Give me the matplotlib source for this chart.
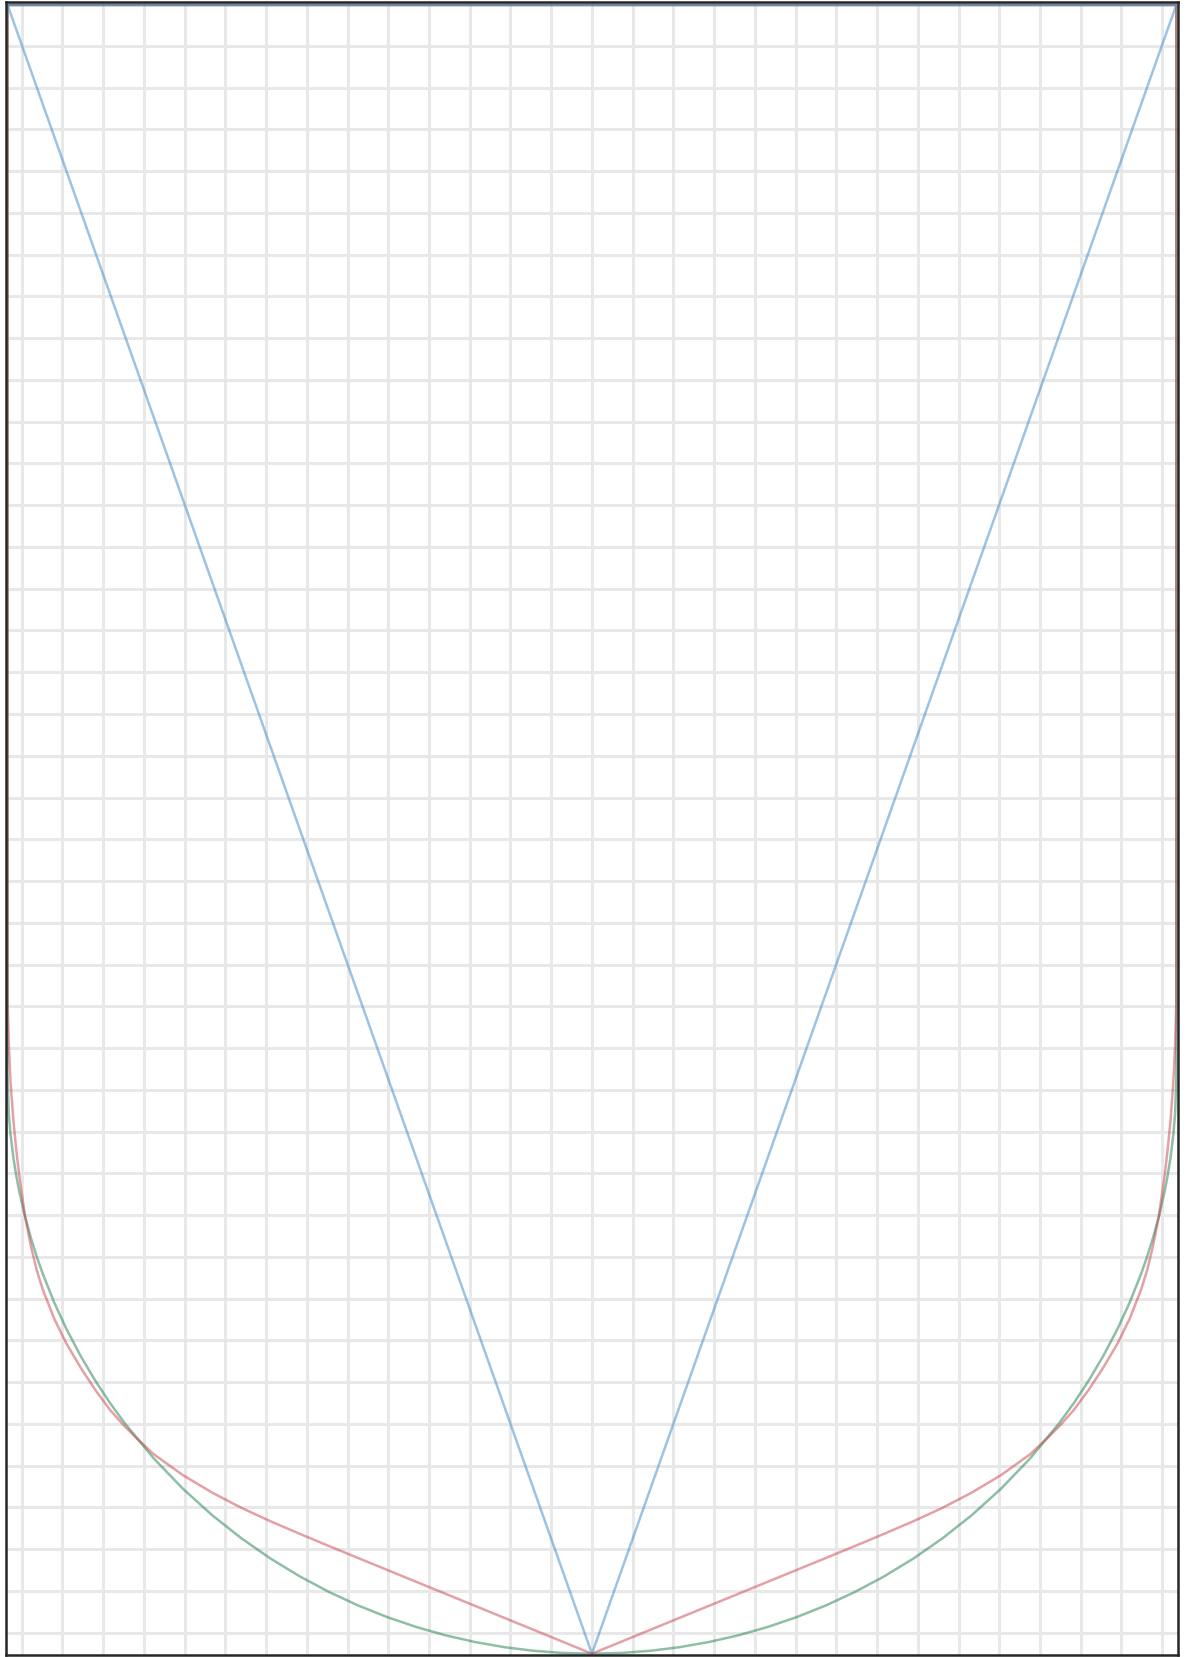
import numpy as np
import matplotlib
matplotlib.use("Agg")
import matplotlib.pyplot as plt

# Half-profile x positions (right half; curves are symmetric about x=0)
x_green = [0.0, 0.05, 0.1, 0.15, 0.2, 0.25, 0.3, 0.35, 0.4, 0.45, 0.5, 0.55,
           0.6, 0.65, 0.7, 0.75, 0.8, 0.825, 0.85, 0.875, 0.9, 0.92, 0.94,
           0.95, 0.96, 0.97, 0.98, 0.985, 0.99, 0.995, 0.998, 1.0]
y_green = [0.0, 0.00044, 0.00176, 0.00396, 0.00707, 0.01111, 0.01612,
           0.02214, 0.02922, 0.03744, 0.04689, 0.05769, 0.0700, 0.08402,
           0.10005, 0.11850, 0.1400, 0.15220, 0.16563, 0.18056, 0.19744,
           0.21283, 0.23059, 0.24071, 0.2520, 0.26492, 0.28035, 0.28961,
           0.30063, 0.31505, 0.32788, 0.3480]

x_red = [0.0, 0.1, 0.2, 0.3, 0.4, 0.45, 0.5, 0.55, 0.6, 0.65, 0.7, 0.75,
         0.78, 0.8, 0.825, 0.85, 0.875, 0.9, 0.92, 0.94, 0.95, 0.96, 0.97,
         0.98, 0.985, 0.99, 0.995, 0.998, 1.0]
y_red = [0.0, 0.0145, 0.0290, 0.0435, 0.0580, 0.0653, 0.0727, 0.0803,
         0.0885, 0.0977, 0.1083, 0.1210, 0.1310, 0.1380, 0.1480, 0.1600,
         0.1735, 0.1885, 0.2030, 0.2210, 0.2325, 0.2470, 0.2650, 0.2900,
         0.3050, 0.3230, 0.3470, 0.3700, 0.3950]

x_blue = [0.0, 1.0]
y_blue = [0.0, 1.0]

y_top = 1.0

colors = {"green": "#1f7f4d", "red": "#c9434d", "blue": "#3b89c9"}


def closed_profile(xh, yh):
    xh = np.asarray(xh, float)
    yh = np.asarray(yh, float)
    xs = np.concatenate([-xh[::-1], xh[1:]])
    ys = np.concatenate([yh[::-1], yh[1:]])
    xs = np.concatenate([xs, [xh[-1], -xh[-1], -xh[-1]]])
    ys = np.concatenate([ys, [y_top, y_top, yh[-1]]])
    return xs, ys


fig = plt.figure(figsize=(11.92, 16.57), dpi=100)
ax = fig.add_axes([0.0049, 0.0012, 0.9834, 0.9973])
ax.set_xlim(-1.003, 1.003)
ax.set_ylim(-0.0008, 1.0015)

# grid
dx = 0.0697
dy = 0.02533
xticks = np.arange(-14, 15) * dx
yticks = 0.0127 + np.arange(0, 39) * dy
ax.set_xticks(xticks)
ax.set_yticks(yticks)
ax.tick_params(length=0, labelbottom=False, labelleft=False)
ax.grid(True, color="#e8e8e8", linewidth=2.1)
ax.set_axisbelow(True)

for name, (xh, yh) in [("green", (x_green, y_green)),
                       ("red", (x_red, y_red)),
                       ("blue", (x_blue, y_blue))]:
    xs, ys = closed_profile(xh, yh)
    ax.plot(xs, ys, color=colors[name], alpha=0.5, linewidth=1.8,
            solid_joinstyle="round")

for s in ax.spines.values():
    s.set_color("#262626")
    s.set_linewidth(1.8)

fig.savefig("out.png", dpi=100)
